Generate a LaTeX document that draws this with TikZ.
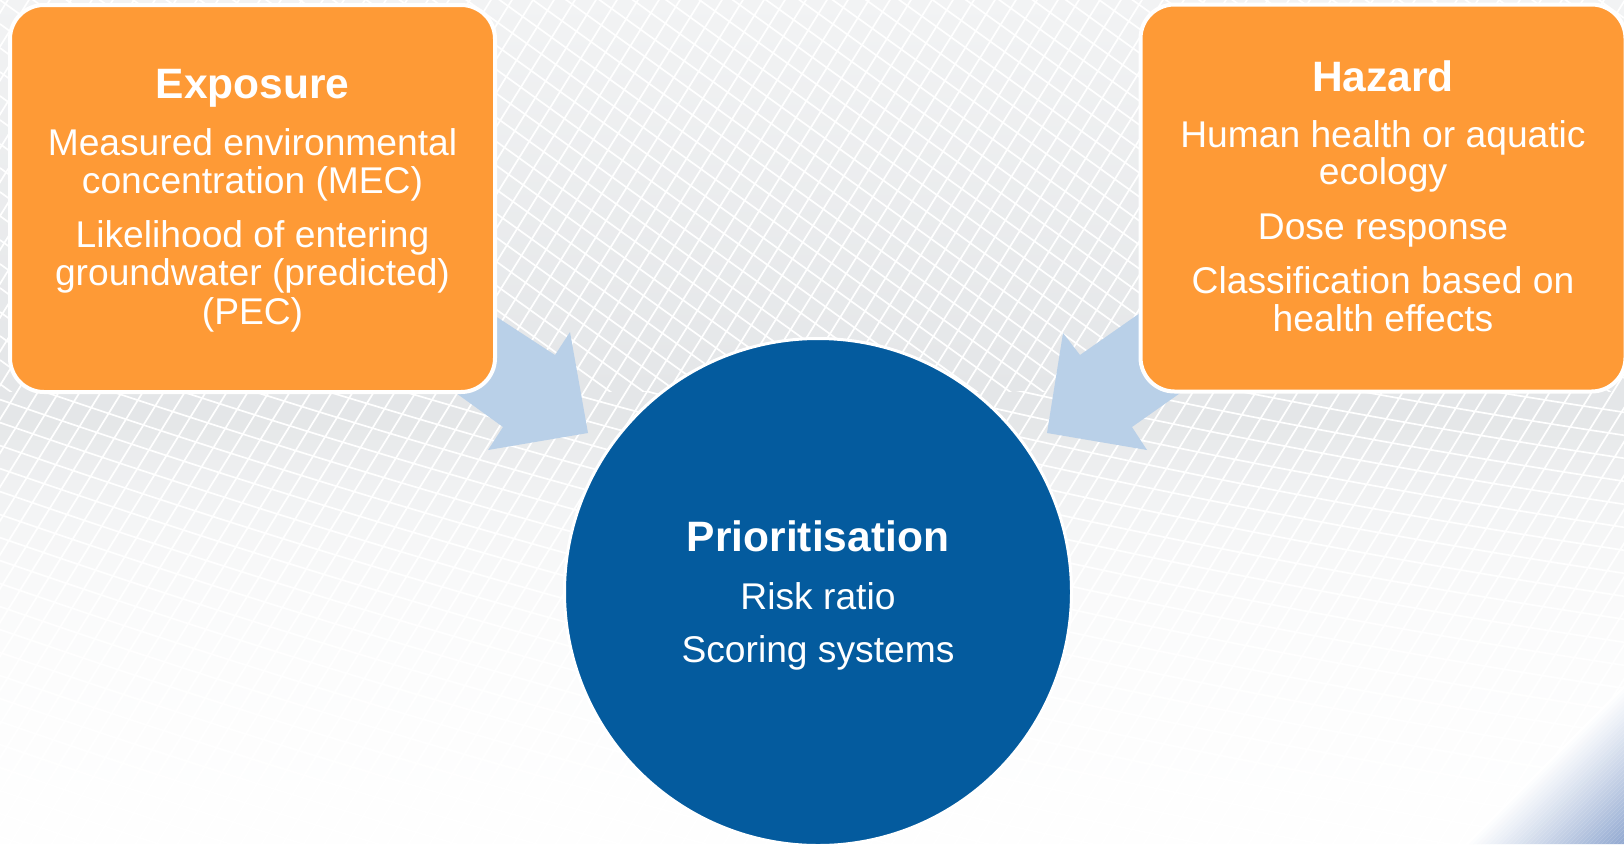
\documentclass[tikz,border=0pt]{standalone}
\usepackage{fontspec}
\setmainfont{Liberation Sans}

\definecolor{boxorange}{RGB}{254,154,54}
\definecolor{prioblue}{RGB}{4,91,158}
\definecolor{arrowblue}{RGB}{185,208,232}
\definecolor{bgtop}{RGB}{242,243,244}
\definecolor{bggray}{RGB}{228,230,232}
\definecolor{cornerblue}{RGB}{145,168,208}

\begin{document}
\begin{tikzpicture}[x=1pt, y=-1pt, line join=round,
    box/.style={draw=white, line width=4pt, fill=boxorange, rounded corners=34pt,
      minimum width=485pt, minimum height=387pt, inner sep=0pt},
    hub/.style={circle, draw=white, line width=3pt, fill=prioblue, minimum size=507pt, inner sep=0pt},
    headtext/.style={text=white, anchor=base, inner sep=0pt, font=\fontsize{42.5}{46}\selectfont\bfseries},
    itemtext/.style={text=white, anchor=base, inner sep=0pt, font=\fontsize{37.2}{38}\selectfont},
    mesh/.style={white, line width=1.7pt}]
	\useasboundingbox (0,0) rectangle (1624,844);
	\clip (0,0) rectangle (1624,844);
	% nền
	\shade[top color=bgtop, bottom color=bggray] (0,0) rectangle (1624,390);
	\fill[bggray] (0,390) rectangle (1624,844);
	% lưới: sợi dốc
	\foreach \i in {0,...,105} \draw[mesh] (\i*21-10,-5) -- ++(-530,855);
	% lưới: sợi chéo phía trên
	\begin{scope}
		\clip (0,0) rectangle (1624,391);
		\foreach \i in {-50,...,17} \draw[mesh] (0,\i*24) -- (1624,\i*24+1170);
	\end{scope}
	% lưới: sợi thoải phía dưới
	\begin{scope}
		\clip (0,391) rectangle (1624,844);
		\foreach \i in {-13,...,26}
			\draw[mesh] plot[domain=0:1624, samples=25, smooth] (\x,{300+\i*23+0.25*\x-0.6*((\x-800)/100)^2});
	\end{scope}
	% mờ dần xuống dưới
	\foreach \k [evaluate=\k as \op using {1-exp(-(10*\k+5)/110)}] in {0,...,42}
		\fill[white, opacity=\op] (0,{420+10*\k}) rectangle (1624,{430+10*\k});
	% góc xanh
	\foreach \k [evaluate=\k as \pct using \k*2.5] in {0,...,40}
		\fill[cornerblue!\pct!white] ({2309+4*\k-844},844) -- ({2313+4*\k-844},844) -- (1624,{2313+4*\k-1624}) -- (1624,{2309+4*\k-1624}) -- cycle;
	% mũi tên
	\fill[arrowblue] (440,280) -- (555,355) -- (570,332) -- (588,433) -- (488,450) -- (503,427) -- (420,367) -- cycle;
	\fill[arrowblue] (1180,285) -- (1080,355) -- (1063,333) -- (1047,433) -- (1147,450) -- (1132,427) -- (1210,372) -- cycle;
	% khối
	\node[box] (exposure) at (252.5,198.5) {};
	\node[box] (hazard) at (1383,198) {};
	\node[hub] (prio) at (818,592) {};
	% chữ
	\node[headtext] (exptitle) at (252.5,98) {Exposure};
	\node[itemtext] (exp1) at (252.5,155) {Measured environmental}; \node[itemtext] (exp2) at (252.5,193) {concentration (MEC)};
	\node[itemtext] (exp3) at (252.5,247) {Likelihood of entering}; \node[itemtext] (exp4) at (252.5,285) {groundwater (predicted)};
	\node[itemtext] (exp5) at (252.5,324) {(PEC)};
	\node[headtext] (haztitle) at (1383,91) {Hazard};
	\node[itemtext] (haz1) at (1383,147) {Human health or aquatic}; \node[itemtext] (haz2) at (1383,184) {ecology};
	\node[itemtext] (haz3) at (1383,239) {Dose response};
	\node[itemtext] (haz4) at (1383,293) {Classification based on}; \node[itemtext] (haz5) at (1383,331) {health effects};
	\node[headtext] (priotitle) at (818,551) {Prioritisation};
	\node[itemtext] (prio1) at (818,609) {Risk ratio}; \node[itemtext] (prio2) at (818,662) {Scoring systems};
\end{tikzpicture}
\end{document}
